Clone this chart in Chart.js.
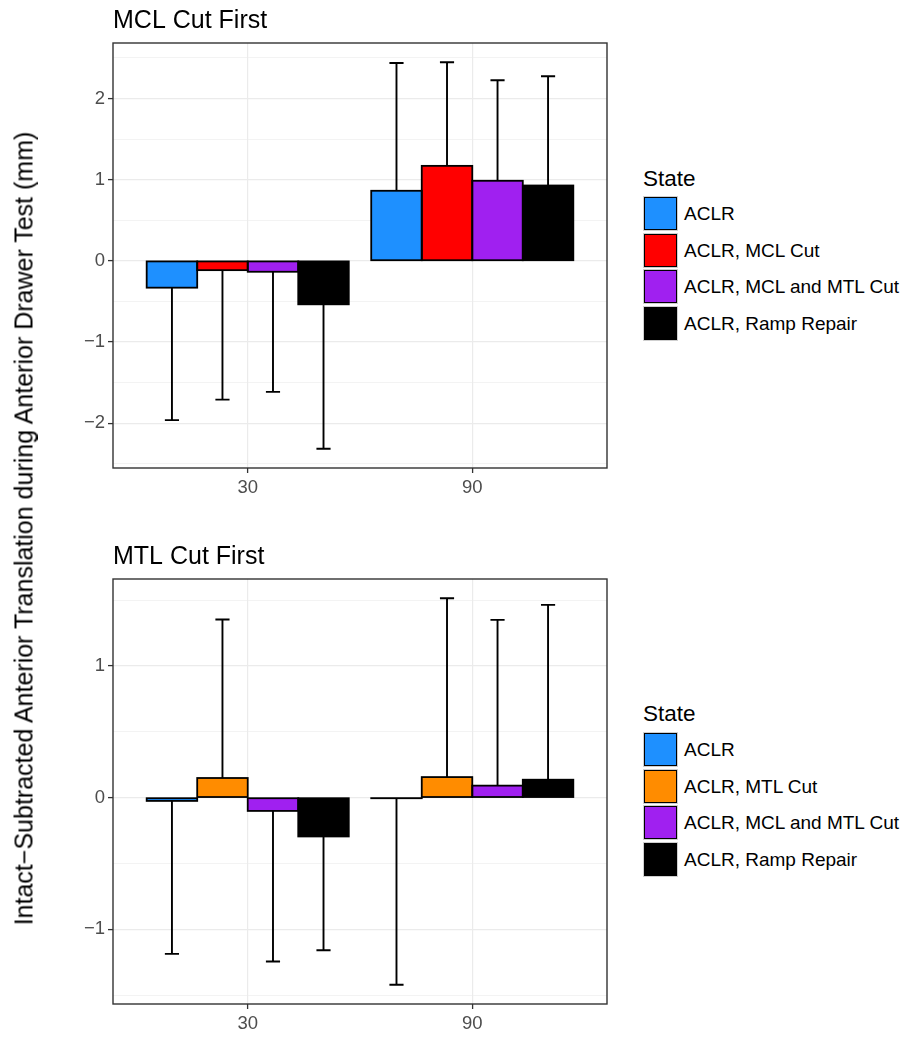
<!DOCTYPE html>
<html>
<head>
<meta charset="utf-8">
<script src="https://cdn.jsdelivr.net/npm/chart.js@4.4.1/dist/chart.umd.min.js"></script>
<style>
  html, body { margin: 0; padding: 0; background: #fff; overflow: hidden; }
  body { width: 909px; height: 1038px; position: relative;
         font-family: "Liberation Sans", Arial, Helvetica, sans-serif; }
  canvas { position: absolute; left: 0; }
  #mclChart { top: 0; }
  #mtlChart { top: 536px; }
  .ytitle { position: absolute; left: -475.7px; top: 515.5px; width: 1000px; height: 25px;
            line-height: 25px; font-size: 25px; text-align: center; color: #000;
            transform: rotate(-90deg); white-space: nowrap; }
  .lg-title { position: absolute; left: 643px; font-size: 22.5px; line-height: 22.5px; color: #000; }
  .lg-key { position: absolute; left: 643px; width: 35px; height: 35px; box-sizing: border-box;
            border: 1px solid #CFCFCF; }
  .lg-key div { width: 100%; height: 100%; box-sizing: border-box; border: 1.6px solid #000; }
  .lg-label { position: absolute; left: 684px; height: 35px; line-height: 35px; font-size: 19px;
              color: #000; white-space: nowrap; }
</style>
</head>
<body>
<canvas id="mclChart" width="620" height="510"></canvas>
<canvas id="mtlChart" width="620" height="502"></canvas>
<div class="ytitle">Intact−Subtracted Anterior Translation during Anterior Drawer Test (mm)</div>
<div id="legends"></div>
<script>
// Flexion angles (degrees) on the x axis
const angles = ['30', '90'];

// States and fill colours for each panel
const mclStates = ['ACLR', 'ACLR, MCL Cut', 'ACLR, MCL and MTL Cut', 'ACLR, Ramp Repair'];
const mtlStates = ['ACLR', 'ACLR, MTL Cut', 'ACLR, MCL and MTL Cut', 'ACLR, Ramp Repair'];
const mclColors = ['#1E90FF', '#FF0000', '#A020F0', '#000000'];
const mtlColors = ['#1E90FF', '#FF8C00', '#A020F0', '#000000'];

// MCL cut first: mean translation (mm) at 30 and 90 degrees
const mclAclrMean    = [-0.331, 0.863];
const mclMclCutMean  = [-0.115, 1.170];
const mclBothCutMean = [-0.135, 0.986];
const mclRampMean    = [-0.536, 0.928];
// MCL cut first: standard deviations (mm)
const mclAclrSd    = [1.632, 1.575];
const mclMclCutSd  = [1.595, 1.276];
const mclBothCutSd = [1.480, 1.239];
const mclRampSd    = [1.779, 1.346];

// MTL cut first: mean translation (mm) at 30 and 90 degrees
const mtlAclrMean    = [-0.025, -0.004];
const mtlMtlCutMean  = [0.149, 0.156];
const mtlBothCutMean = [-0.101, 0.091];
const mtlRampMean    = [-0.295, 0.136];
// MTL cut first: standard deviations (mm)
const mtlAclrSd    = [1.162, 1.417];
const mtlMtlCutSd  = [1.204, 1.358];
const mtlBothCutSd = [1.144, 1.259];
const mtlRampSd    = [0.864, 1.328];

const FONT = '"Liberation Sans", Arial, Helvetica, sans-serif';
Chart.defaults.font.family = FONT;

// one-sided error bar end: away from zero, in the direction of the mean
const errEnd = (m, s) => (m < 0 ? m - s : m + s);
const isMajor = v => Math.abs(v - Math.round(v)) < 1e-6;
const fmt = v => (v < 0 ? '\u2212' + Math.abs(v) : String(v));

// bar outlines, error bars, panel border and panel title
const panelDecor = {
  id: 'panelDecor',
  afterDatasetsDraw(chart, args, opts) {
    const ctx = chart.ctx;
    const yScale = chart.scales.y;
    ctx.save();
    ctx.strokeStyle = '#000';
    ctx.lineWidth = 1.8;
    chart.data.datasets.forEach((ds, di) => {
      chart.getDatasetMeta(di).data.forEach(bar => {
        const p = bar.getProps(['x', 'y', 'base', 'width'], true);
        ctx.strokeRect(p.x - p.width / 2, Math.min(p.y, p.base), p.width, Math.abs(p.base - p.y));
      });
    });
    ctx.lineWidth = 1.9;
    chart.data.datasets.forEach((ds, di) => {
      chart.getDatasetMeta(di).data.forEach((bar, i) => {
        const p = bar.getProps(['x', 'y', 'width'], true);
        const ye = yScale.getPixelForValue(errEnd(ds.means[i], ds.sds[i]));
        const cap = p.width * 0.14;
        ctx.beginPath();
        ctx.moveTo(p.x, p.y);
        ctx.lineTo(p.x, ye);
        ctx.moveTo(p.x - cap, ye);
        ctx.lineTo(p.x + cap, ye);
        ctx.stroke();
      });
    });
    ctx.restore();
  },
  afterDraw(chart, args, opts) {
    const { ctx, chartArea: a } = chart;
    ctx.save();
    ctx.strokeStyle = '#333333';
    ctx.lineWidth = 1.4;
    ctx.strokeRect(a.left, a.top, a.right - a.left, a.bottom - a.top);
    ctx.fillStyle = '#000';
    ctx.font = '25px ' + FONT;
    ctx.textAlign = 'left';
    ctx.textBaseline = 'alphabetic';
    ctx.fillText(opts.title, a.left, a.top - 15.5);
    ctx.restore();
  }
};

function makePanel(canvasId, title, states, colors, means, sds, xAxisHeight) {
  // y range: bars and error bar ends, expanded by 5% on each side
  const vals = [0];
  means.forEach((m, k) => m.forEach((v, i) => { vals.push(v, errEnd(v, sds[k][i])); }));
  const lo = Math.min(...vals), hi = Math.max(...vals), pad = (hi - lo) * 0.05;
  const yMin = lo - pad, yMax = hi + pad;
  const yTicks = [];
  for (let v = Math.ceil(yMin * 2) / 2; v <= yMax + 1e-9; v += 0.5) yTicks.push(Math.round(v * 2) / 2);

  return new Chart(document.getElementById(canvasId), {
    type: 'bar',
    data: {
      datasets: states.map((s, k) => ({
        label: s,
        data: means[k].map((m, i) => ({ x: i + 1, y: m })),
        means: means[k],
        sds: sds[k],
        backgroundColor: colors[k],
        borderWidth: 0,
        categoryPercentage: 0.9,
        barPercentage: 1
      }))
    },
    options: {
      responsive: false,
      animation: false,
      devicePixelRatio: 1,
      layout: { padding: { top: 43, right: 13, left: 0, bottom: 0 } },
      plugins: {
        legend: { display: false },
        tooltip: { enabled: false },
        panelDecor: { title }
      },
      scales: {
        x: {
          type: 'linear',
          min: 0.4,
          max: 2.6,
          offset: false,
          afterBuildTicks: s => { s.ticks = angles.map((_, i) => ({ value: i + 1 })); },
          afterFit: s => { s.height = xAxisHeight; },
          border: { display: false },
          grid: { offset: false, color: '#EBEBEB', lineWidth: 1.2,
                  tickColor: '#333333', tickLength: 5, tickWidth: 1.3 },
          ticks: { autoSkip: false, maxRotation: 0, padding: 4, color: '#4D4D4D',
                   font: { size: 18.5 }, callback: v => angles[Math.round(v) - 1] }
        },
        y: {
          min: yMin,
          max: yMax,
          afterBuildTicks: s => { s.ticks = yTicks.map(v => ({ value: v })); },
          afterFit: s => { s.width = 113; },
          border: { display: false },
          grid: {
            color: '#EBEBEB',
            lineWidth: c => (c.tick && isMajor(c.tick.value) ? 1.2 : 0.6),
            tickColor: c => (c.tick && isMajor(c.tick.value) ? '#333333' : 'rgba(0,0,0,0)'),
            tickLength: 5,
            tickWidth: 1.3
          },
          ticks: { autoSkip: false, padding: 3, color: '#4D4D4D', font: { size: 18.5 },
                   callback: v => (isMajor(v) ? fmt(Math.round(v)) : '') }
        }
      }
    },
    plugins: [panelDecor]
  });
}

makePanel('mclChart', 'MCL Cut First', mclStates, mclColors,
  [mclAclrMean, mclMclCutMean, mclBothCutMean, mclRampMean],
  [mclAclrSd, mclMclCutSd, mclBothCutSd, mclRampSd], 42);

makePanel('mtlChart', 'MTL Cut First', mtlStates, mtlColors,
  [mtlAclrMean, mtlMtlCutMean, mtlBothCutMean, mtlRampMean],
  [mtlAclrSd, mtlMtlCutSd, mtlBothCutSd, mtlRampSd], 34);

// legends ("State") beside each panel
function buildLegend(titleTop, keysTop, states, colors) {
  const host = document.getElementById('legends');
  const t = document.createElement('div');
  t.className = 'lg-title';
  t.style.top = titleTop + 'px';
  t.textContent = 'State';
  host.appendChild(t);
  states.forEach((s, k) => {
    const top = keysTop + k * 36.5;
    const key = document.createElement('div');
    key.className = 'lg-key';
    key.style.top = top + 'px';
    const fill = document.createElement('div');
    fill.style.background = colors[k];
    key.appendChild(fill);
    host.appendChild(key);
    const lab = document.createElement('div');
    lab.className = 'lg-label';
    lab.style.top = top + 'px';
    lab.textContent = s;
    host.appendChild(lab);
  });
}
buildLegend(167.6, 196, mclStates, mclColors);
buildLegend(702.6, 732.3, mtlStates, mtlColors);
</script>
</body>
</html>
